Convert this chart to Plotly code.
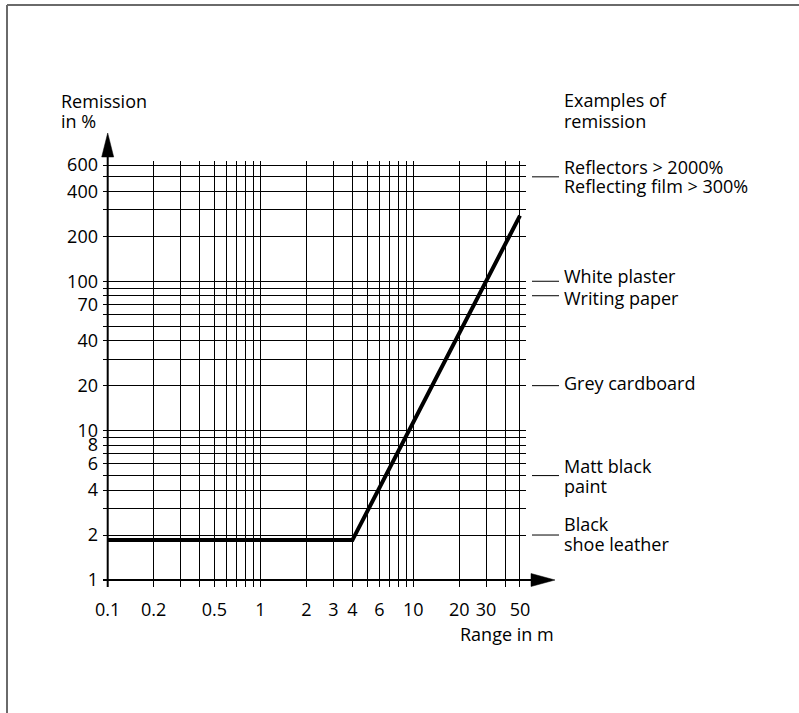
import math
import plotly.graph_objects as go

# ---------------- data ----------------
range_m = [0.1, 4, 50]
remission_pct = [1.85, 1.85, 275]

x_grid = [0.1, 0.2, 0.3, 0.4, 0.5, 0.6, 0.7, 0.8, 0.9, 1, 2, 3, 4, 5, 6, 7, 8, 9, 10, 20, 30, 40, 50]
x_tick_labels = {0.1: "0.1", 0.2: "0.2", 0.5: "0.5", 1: "1", 2: "2", 3: "3", 4: "4",
                 6: "6", 10: "10", 20: "20", 30: "30", 50: "50"}
y_grid = [1, 2, 3, 4, 5, 6, 7, 8, 9, 10, 20, 30, 40, 50, 60, 70, 80, 90, 100,
          200, 300, 400, 500, 600]
y_tick_labels = {1: "1", 2: "2", 4: "4", 6: "6", 8: "8", 10: "10", 20: "20", 40: "40",
                 70: "70", 100: "100", 200: "200", 400: "400", 600: "600"}

example_lines = [["Reflectors &gt; 2000%", "Reflecting film &gt; 300%"],
                 ["White plaster"], ["Writing paper"], ["Grey cardboard"],
                 ["Matt black", "paint"], ["Black", "shoe leather"]]
example_levels = [500, 100, 80, 20, 5, 2]
example_shifts = [[10, -9], [5], [-2], [3], [10, -10], [11, -9]]

# ---------------- layout geometry ----------------
W, H = 799, 713
L, R, T, B = 103, 526, 161, 587
XR = [-1.0308, 1.7383]
YR = [-0.0469, 2.805]
FONT = "Open Sans"
FS = 18


def px(xpix):
    return (xpix - L) / (R - L)


def py(ypix):
    return (B - ypix) / (B - T)


def xdata_paper(v):
    return (math.log10(v) - XR[0]) / (XR[1] - XR[0])


fig = go.Figure()
fig.add_trace(go.Scatter(x=range_m, y=remission_pct, mode="lines",
                         line=dict(color="black", width=4), hoverinfo="skip"))

shapes = []
# frame (top and left)
shapes.append(dict(type="line", xref="paper", yref="paper", x0=px(7), x1=px(799),
                   y0=py(5), y1=py(5), line=dict(color="#6a6a6a", width=2)))
shapes.append(dict(type="line", xref="paper", yref="paper", x0=px(7), x1=px(7),
                   y0=py(5), y1=py(713), line=dict(color="#6a6a6a", width=2)))

# axes with arrows
x0p = xdata_paper(range_m[0])
shapes.append(dict(type="line", xref="paper", yref="paper", x0=x0p, x1=x0p,
                   y0=0, y1=py(156), line=dict(color="black", width=2)))
shapes.append(dict(type="line", xref="paper", yref="y", x0=0, x1=px(532),
                   y0=1, y1=1, line=dict(color="black", width=2)))
# y arrow head
shapes.append(dict(type="path", xref="paper", yref="paper",
                   path=f"M {px(101.7)},{py(157)} L {px(113.7)},{py(157)} L {x0p},{py(133)} Z",
                   fillcolor="black", line=dict(color="black", width=0.5)))
# x arrow head
y1p = py(580)
shapes.append(dict(type="path", xref="paper", yref="paper",
                   path=f"M {px(531)},{py(573.5)} L {px(531)},{py(586.5)} L {px(555)},{y1p} Z",
                   fillcolor="black", line=dict(color="black", width=0.5)))

annotations = []
# leaders and example labels
for lines, lvl, shifts in zip(example_lines, example_levels, example_shifts):
    shapes.append(dict(type="line", xref="paper", yref="y", x0=px(532), x1=px(559),
                       y0=lvl, y1=lvl, line=dict(color="black", width=1)))
    for txt, s in zip(lines, shifts):
        annotations.append(dict(text=txt, xref="paper", yref="y", x=px(562),
                                y=math.log10(lvl), yshift=s, xanchor="left", yanchor="middle",
                                showarrow=False, font=dict(family=FONT, size=FS, color="black")))

# titles
for txt, xx, yy, anc in [("Remission", 59, 101, "left"), ("in %", 59, 121, "left"),
                         ("Examples of", 562, 100, "left"), ("remission", 562, 120.5, "left"),
                         ("Range in m", 556, 634, "right")]:
    annotations.append(dict(text=txt, xref="paper", yref="paper", x=px(xx), y=py(yy),
                            xanchor=anc, yanchor="middle", showarrow=False,
                            font=dict(family=FONT, size=FS, color="black")))

fig.update_layout(
    width=W, height=H,
    margin=dict(l=L, r=W - R, t=T, b=H - B, pad=0),
    paper_bgcolor="white", plot_bgcolor="white",
    showlegend=False,
    shapes=shapes, annotations=annotations,
    font=dict(family=FONT, size=FS, color="black"),
    xaxis=dict(type="log", range=XR, tickmode="array", tickvals=x_grid,
               ticktext=[x_tick_labels.get(v, "") for v in x_grid],
               showgrid=True, gridcolor="black", gridwidth=1, zeroline=False,
               showline=False, ticks="", ticklabelstandoff=10,
               tickfont=dict(family=FONT, size=FS, color="black"), fixedrange=True),
    yaxis=dict(type="log", range=YR, tickmode="array", tickvals=y_grid,
               ticktext=[y_tick_labels.get(v, "") for v in y_grid],
               showgrid=True, gridcolor="black", gridwidth=1, zeroline=False,
               showline=False, ticks="", ticklabelstandoff=4,
               tickfont=dict(family=FONT, size=FS, color="black"), fixedrange=True),
)

fig.write_html("out.html", config={"displayModeBar": False},
               post_script="document.body.style.margin='0';")
